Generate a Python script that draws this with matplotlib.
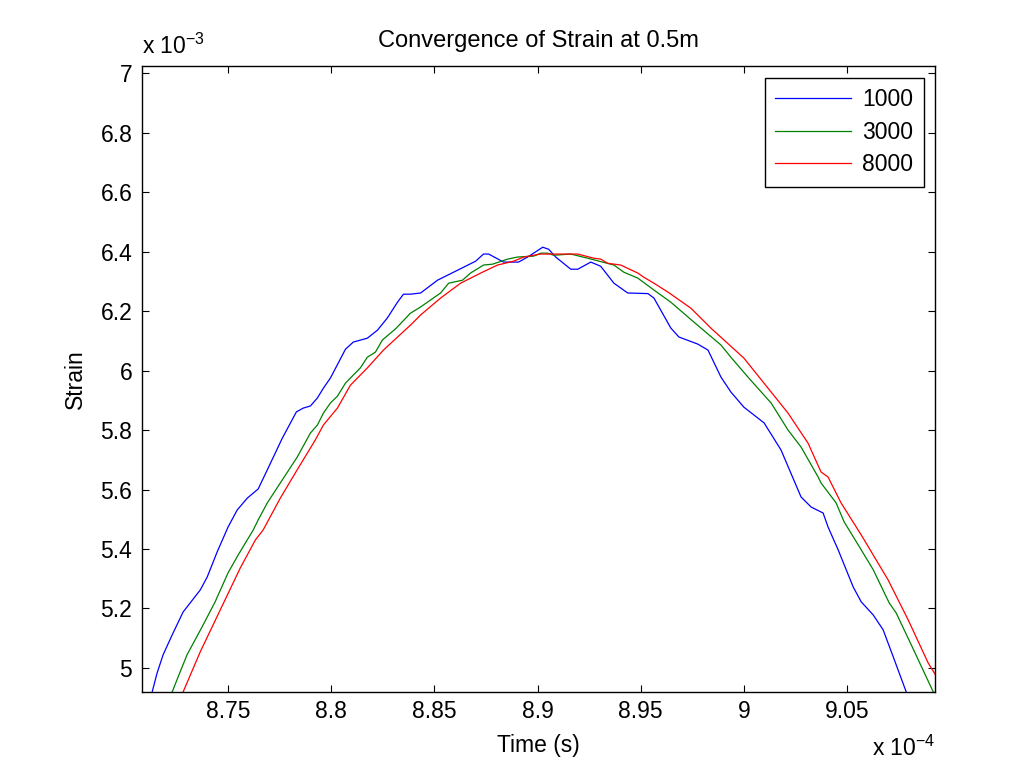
import numpy as np
import matplotlib
matplotlib.use("Agg")
import matplotlib.pyplot as plt
from matplotlib.ticker import FormatStrFormatter

plt.rcParams['font.family'] = ['Liberation Sans', 'DejaVu Sans']
plt.rcParams['mathtext.default'] = 'regular'

# time in units of 1e-4 s, strain in units of 1e-3
t_1000 = [8.7132, 8.7156, 8.7185, 8.7229, 8.7282, 8.7365, 8.7399, 8.7447, 8.7500, 8.7544,
          8.7593, 8.7646, 8.7690, 8.7763, 8.7831, 8.7865, 8.7899, 8.7933, 8.7962, 8.7996,
          8.8069, 8.8107, 8.8175, 8.8224, 8.8272, 8.8321, 8.8350, 8.8384, 8.8433, 8.8515,
          8.8593, 8.8700, 8.8738, 8.8763, 8.8835, 8.8908, 8.8952, 8.9025, 8.9054, 8.9088,
          8.9161, 8.9195, 8.9258, 8.9306, 8.9370, 8.9437, 8.9535, 8.9564, 8.9646, 8.9685,
          8.9777, 8.9826, 8.9889, 8.9937, 9.0000, 9.0098, 9.0180, 9.0277, 9.0326, 9.0384,
          9.0408, 9.0457, 9.0530, 9.0569, 9.0627, 9.0675, 9.0724, 9.0787]
e_1000 = [4.919, 4.983, 5.044, 5.111, 5.188, 5.262, 5.306, 5.390, 5.474, 5.531,
          5.571, 5.602, 5.666, 5.773, 5.861, 5.874, 5.881, 5.908, 5.941, 5.975,
          6.072, 6.096, 6.109, 6.136, 6.177, 6.230, 6.257, 6.257, 6.261, 6.304,
          6.331, 6.368, 6.392, 6.392, 6.365, 6.365, 6.382, 6.415, 6.408, 6.382,
          6.341, 6.341, 6.365, 6.351, 6.294, 6.261, 6.259, 6.244, 6.143, 6.113,
          6.089, 6.069, 5.978, 5.928, 5.877, 5.824, 5.733, 5.575, 5.541, 5.521,
          5.474, 5.397, 5.272, 5.222, 5.178, 5.128, 5.037, 4.919]

t_3000 = [8.7229, 8.7258, 8.7301, 8.7374, 8.7437, 8.7500, 8.7549, 8.7622, 8.7646, 8.7690,
          8.7753, 8.7835, 8.7899, 8.7933, 8.7962, 8.7996, 8.8030, 8.8069, 8.8141, 8.8175,
          8.8214, 8.8248, 8.8311, 8.8384, 8.8433, 8.8530, 8.8569, 8.8636, 8.8675, 8.8738,
          8.8782, 8.8855, 8.8903, 8.8981, 8.9015, 8.9049, 8.9078, 8.9161, 8.9243, 8.9370,
          8.9418, 8.9486, 8.9564, 8.9646, 8.9758, 8.9889, 8.9937, 9.0020, 9.0132, 9.0214,
          9.0277, 9.0360, 9.0374, 9.0447, 9.0486, 9.0554, 9.0627, 9.0704, 9.0738, 9.0811,
          9.0918]
e_3000 = [4.919, 4.970, 5.044, 5.138, 5.222, 5.320, 5.380, 5.464, 5.498, 5.555,
          5.622, 5.709, 5.790, 5.817, 5.857, 5.891, 5.914, 5.958, 6.009, 6.045,
          6.062, 6.103, 6.140, 6.193, 6.214, 6.261, 6.294, 6.304, 6.328, 6.355,
          6.358, 6.375, 6.382, 6.385, 6.395, 6.395, 6.388, 6.392, 6.378, 6.355,
          6.331, 6.311, 6.271, 6.230, 6.163, 6.086, 6.045, 5.978, 5.891, 5.800,
          5.743, 5.642, 5.622, 5.555, 5.491, 5.414, 5.330, 5.219, 5.185, 5.078,
          4.919]

t_8000 = [8.7282, 8.7365, 8.7462, 8.7559, 8.7632, 8.7670, 8.7753, 8.7826, 8.7923, 8.7962,
          8.8030, 8.8093, 8.8175, 8.8253, 8.8384, 8.8433, 8.8530, 8.8627, 8.8724, 8.8806,
          8.8884, 8.8933, 8.9015, 8.9195, 8.9273, 8.9306, 8.9340, 8.9403, 8.9486, 8.9515,
          8.9564, 8.9632, 8.9743, 8.9840, 9.0000, 9.0132, 9.0214, 9.0311, 9.0374, 9.0408,
          9.0471, 9.0569, 9.0699, 9.0796, 9.0893, 9.0937]
e_8000 = [4.919, 5.054, 5.195, 5.336, 5.430, 5.464, 5.571, 5.656, 5.767, 5.817,
          5.874, 5.951, 6.009, 6.069, 6.153, 6.187, 6.244, 6.294, 6.328, 6.355,
          6.368, 6.382, 6.392, 6.392, 6.378, 6.375, 6.361, 6.355, 6.328, 6.314,
          6.294, 6.264, 6.210, 6.143, 6.042, 5.928, 5.857, 5.756, 5.659, 5.642,
          5.555, 5.447, 5.296, 5.162, 5.017, 4.967]

labels = ['1000', '3000', '8000']
colors = ['#0000ff', '#008000', '#ff0000']

fig = plt.figure(figsize=(10.22, 7.71), dpi=100)
ax = fig.add_axes([0.139, 0.1025, 0.776, 0.8115])

series = [(t_1000, e_1000), (t_3000, e_3000), (t_8000, e_8000)]
for (t, e), lab, c in zip(series, labels, colors):
    ax.plot(t, e, color=c, lw=0.9, label=lab)

ax.set_xlim(8.7083, 9.0927)
ax.set_ylim(4.919, 7.0235)
ax.set_xticks(np.arange(8.75, 9.06, 0.05))
ax.set_yticks(np.arange(5.0, 7.01, 0.2))
ax.xaxis.set_major_formatter(FormatStrFormatter('%g'))
ax.yaxis.set_major_formatter(FormatStrFormatter('%g'))
ax.tick_params(direction='in', length=5, width=0.8, top=True, right=True,
               labelsize=16.5)
ax.tick_params(axis='y', pad=7)
ax.tick_params(axis='x', pad=6)
for s in ax.spines.values():
    s.set_linewidth(1.0)

ax.set_title('Convergence of Strain at 0.5m', fontsize=17, pad=14)
ax.set_xlabel('Time (s)', fontsize=16.5, labelpad=8)
ax.set_ylabel('Strain', fontsize=16.5, labelpad=10)

ax.text(0.0, 1.012, r'x 10$^{-3}$', transform=ax.transAxes, ha='left', va='bottom',
        fontsize=16.5)
ax.text(1.0, -0.07, r'x 10$^{-4}$', transform=ax.transAxes, ha='right', va='top',
        fontsize=16.5)

leg = ax.legend(loc='upper right', fontsize=16.5, handlelength=3.3, handletextpad=0.5,
                fancybox=False, edgecolor='black', framealpha=1, borderaxespad=0.5,
                borderpad=0.45, labelspacing=0.42)
leg.get_frame().set_linewidth(1.0)

fig.savefig('out.png', dpi=100)
